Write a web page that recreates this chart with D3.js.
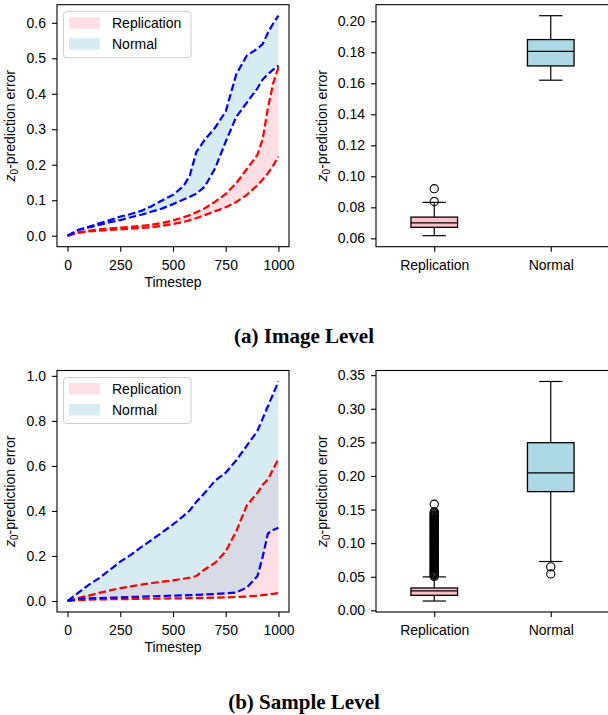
<!DOCTYPE html>
<html>
<head>
<meta charset="utf-8">
<script src="https://cdn.jsdelivr.net/npm/d3@7"></script>
<style>
body { margin: 0; background: #fff; }
svg text { font-family: "Liberation Sans", Arial, sans-serif; font-size: 14px; fill: #000; }
.caption { font-family: "Liberation Serif", "Times New Roman", serif; font-weight: bold; font-size: 21px; }
</style>
</head>
<body>
<svg id="fig" width="608" height="715"></svg>
<script>
var timesteps = [0, 50, 100, 150, 200, 250, 300, 350, 400, 450, 500, 550, 580, 610, 650, 700, 750, 800, 850, 900, 925, 950, 975, 1000];
var xTicks = [0, 250, 500, 750, 1000];

// (a) image level, lower / upper bounds
var imgRepLo  = [0, 0.008, 0.012, 0.014, 0.016, 0.018, 0.020, 0.022, 0.024, 0.028, 0.033, 0.039, 0.044, 0.049, 0.058, 0.069, 0.080, 0.095, 0.115, 0.142, 0.158, 0.176, 0.198, 0.223];
var imgRepHi  = [0, 0.009, 0.014, 0.018, 0.021, 0.023, 0.025, 0.028, 0.031, 0.036, 0.043, 0.052, 0.058, 0.066, 0.077, 0.096, 0.118, 0.148, 0.188, 0.228, 0.272, 0.360, 0.430, 0.475];
var imgNormLo = [0, 0.016, 0.023, 0.030, 0.038, 0.044, 0.052, 0.059, 0.068, 0.077, 0.089, 0.102, 0.110, 0.118, 0.138, 0.190, 0.265, 0.335, 0.375, 0.415, 0.440, 0.455, 0.468, 0.479];
var imgNormHi = [0, 0.016, 0.025, 0.035, 0.044, 0.054, 0.061, 0.070, 0.084, 0.100, 0.115, 0.140, 0.170, 0.235, 0.270, 0.305, 0.350, 0.455, 0.508, 0.527, 0.540, 0.572, 0.598, 0.620];

// (b) sample level
var smpRepLo  = [0, 0.004, 0.006, 0.007, 0.008, 0.008, 0.009, 0.010, 0.010, 0.011, 0.012, 0.012, 0.013, 0.013, 0.014, 0.015, 0.016, 0.018, 0.020, 0.023, 0.026, 0.029, 0.032, 0.035];
var smpRepHi  = [0, 0.013, 0.024, 0.036, 0.047, 0.057, 0.065, 0.073, 0.080, 0.086, 0.092, 0.099, 0.104, 0.111, 0.140, 0.170, 0.220, 0.310, 0.425, 0.480, 0.515, 0.540, 0.585, 0.632];
var smpNormLo = [0, 0.009, 0.012, 0.013, 0.015, 0.016, 0.018, 0.019, 0.021, 0.022, 0.024, 0.025, 0.026, 0.027, 0.029, 0.031, 0.034, 0.038, 0.060, 0.110, 0.195, 0.300, 0.315, 0.325];
var smpNormHi = [0, 0.036, 0.072, 0.102, 0.138, 0.175, 0.205, 0.240, 0.272, 0.306, 0.340, 0.378, 0.403, 0.440, 0.480, 0.535, 0.570, 0.625, 0.690, 0.755, 0.810, 0.865, 0.920, 0.975];

var imgYTicks = [0, 0.1, 0.2, 0.3, 0.4, 0.5, 0.6];
var smpYTicks = [0, 0.2, 0.4, 0.6, 0.8, 1.0];

// box plots (Replication, Normal)
var boxCats = ['Replication', 'Normal'];
var imgWhiskLo = [0.0617, 0.1620];
var imgQ1      = [0.0671, 0.1712];
var imgMed     = [0.0700, 0.1806];
var imgQ3      = [0.0737, 0.1882];
var imgWhiskHi = [0.0832, 0.2036];
var imgFliers  = [[0.0838, 0.0920], []];
var imgBoxTicks = [0.06, 0.08, 0.10, 0.12, 0.14, 0.16, 0.18, 0.20];

var smpWhiskLo = [0.0139, 0.0727];
var smpQ1      = [0.0224, 0.1767];
var smpMed     = [0.0289, 0.2047];
var smpQ3      = [0.0333, 0.2495];
var smpWhiskHi = [0.0498, 0.3406];
var smpFliers  = [[0.0505, 0.0518, 0.0531, 0.0546, 0.0560, 0.0573, 0.0589, 0.0602, 0.0617, 0.0630, 0.0645, 0.0659, 0.0672, 0.0688,
                   0.0701, 0.0716, 0.0729, 0.0744, 0.0758, 0.0771, 0.0787, 0.0800, 0.0815, 0.0828, 0.0843, 0.0857, 0.0870, 0.0886,
                   0.0899, 0.0914, 0.0927, 0.0942, 0.0956, 0.0969, 0.0985, 0.0998, 0.1013, 0.1026, 0.1041, 0.1055, 0.1068, 0.1084,
                   0.1097, 0.1112, 0.1125, 0.1140, 0.1154, 0.1167, 0.1183, 0.1196, 0.1211, 0.1224, 0.1239, 0.1253, 0.1266, 0.1282,
                   0.1295, 0.1310, 0.1323, 0.1338, 0.1352, 0.1365, 0.1381, 0.1394, 0.1409, 0.1422, 0.1437, 0.1451, 0.1466, 0.1580],
                  [0.0647, 0.0542]];
var smpBoxTicks = [0, 0.05, 0.10, 0.15, 0.20, 0.25, 0.30, 0.35];

var captions = ['(a) Image Level', '(b) Sample Level'];

var cfg = {
    pink: '#ffc0cb',
    blue: '#add8e6',
    red: '#ff0000',
    dblue: '#0000ff',
    lineLeft: 57, lineRight: 289,
    boxLeft: 376, boxRight: 609,
    rows: [{top: 4.7, bottom: 246.7}, {top: 370.5, bottom: 612}],
};

var svg = d3.select('#fig');

function padded(vals) {
    var e = d3.extent(vals), p = (e[1] - e[0]) * 0.05;
    return [e[0] - p, e[1] + p];
}

function styleAxis(g) {
    g.select('.domain').remove();
    g.selectAll('line').attr('stroke', '#000').attr('stroke-width', 1.1);
    g.selectAll('text').attr('font-size', null).attr('font-family', null);
    g.attr('font-size', null).attr('font-family', null);
}

function ylabel(g, x, cy) {
    var t = g.append('text')
        .attr('transform', 'translate(' + x + ',' + cy + ') rotate(-90)')
        .attr('text-anchor', 'middle');
    t.append('tspan').attr('font-style', 'italic').text('z');
    t.append('tspan').attr('font-size', '10px').attr('dy', 3).text('0');
    t.append('tspan').attr('dy', -3).text('-prediction error');
}

function frame(g, l, t, r, b) {
    g.append('rect')
        .attr('x', l).attr('y', t)
        .attr('width', r - l).attr('height', b - t)
        .attr('fill', 'none').attr('stroke', '#000').attr('stroke-width', 1.1);
}

function linePanel(row, repLo, repHi, normLo, normHi, yTicks) {
    var c = cfg, top = row.top, bottom = row.bottom;
    var g = svg.append('g');

    var x = d3.scaleLinear().domain(padded(timesteps)).range([c.lineLeft, c.lineRight]);
    var y = d3.scaleLinear()
        .domain(padded([].concat(repLo, repHi, normLo, normHi)))
        .range([bottom, top]);

    var area = function(lo, hi) {
        return d3.area()
            .x(function(d, i) { return x(timesteps[i]); })
            .y0(function(d, i) { return y(lo[i]); })
            .y1(function(d, i) { return y(hi[i]); })(timesteps);
    };
    var line = function(vals) {
        return d3.line()
            .x(function(d, i) { return x(timesteps[i]); })
            .y(function(d) { return y(d); })(vals);
    };

    // fills: replication first, normal over it (both half transparent)
    g.append('path').attr('d', area(repLo, repHi)).attr('fill', c.pink).attr('fill-opacity', 0.5);
    g.append('path').attr('d', area(normLo, normHi)).attr('fill', c.blue).attr('fill-opacity', 0.5);

    [[repLo, c.red], [repHi, c.red], [normLo, c.dblue], [normHi, c.dblue]].forEach(function(s) {
        g.append('path')
            .attr('d', line(s[0]))
            .attr('fill', 'none')
            .attr('stroke', s[1])
            .attr('stroke-width', 2.2)
            .attr('stroke-dasharray', '7.5,3.2');
    });

    g.append('g')
        .attr('transform', 'translate(0,' + bottom + ')')
        .call(d3.axisBottom(x).tickValues(xTicks).tickSize(5).tickPadding(8).tickFormat(d3.format('d')))
        .call(styleAxis);
    g.append('g')
        .attr('transform', 'translate(' + c.lineLeft + ',0)')
        .call(d3.axisLeft(y).tickValues(yTicks).tickSize(5).tickPadding(6).tickFormat(d3.format('.1f')))
        .call(styleAxis);

    frame(g, c.lineLeft, top, c.lineRight, bottom);

    g.append('text')
        .attr('x', (c.lineLeft + c.lineRight) / 2)
        .attr('y', bottom + 40)
        .attr('text-anchor', 'middle')
        .text('Timestep');
    ylabel(g, 15, (top + bottom) / 2);

    // legend
    var lx = c.lineLeft + 6.5, ly = top + 7;
    var lg = g.append('g').attr('transform', 'translate(' + lx + ',' + ly + ')');
    lg.append('rect')
        .attr('width', 127.5).attr('height', 46).attr('rx', 3)
        .attr('fill', '#fff').attr('fill-opacity', 0.8)
        .attr('stroke', '#cccccc').attr('stroke-width', 1);
    [['Replication', c.pink], ['Normal', c.blue]].forEach(function(d, i) {
        lg.append('rect')
            .attr('x', 5.5).attr('y', 5.5 + i * 21)
            .attr('width', 31).attr('height', 11.5)
            .attr('fill', d[1]).attr('fill-opacity', 0.5);
        lg.append('text')
            .attr('x', 48.5).attr('y', 16.5 + i * 21)
            .text(d[0]);
    });
}

function boxPanel(row, wLo, q1, med, q3, wHi, fliers, yTicks) {
    var c = cfg, top = row.top, bottom = row.bottom;
    var g = svg.append('g');

    var x = d3.scaleLinear().domain([0.5, 2.5]).range([c.boxLeft, c.boxRight]);
    var allVals = [].concat(wLo, wHi, fliers[0], fliers[1]);
    var y = d3.scaleLinear().domain(padded(allVals)).range([bottom, top]);

    var bw = x(0.9) - x(0.5), cw = bw / 2;
    var fills = [c.pink, c.blue];

    boxCats.forEach(function(cat, i) {
        var cx = x(i + 1);
        // whiskers
        [[wLo[i], q1[i]], [q3[i], wHi[i]]].forEach(function(w) {
            g.append('line')
                .attr('x1', cx).attr('x2', cx)
                .attr('y1', y(w[0])).attr('y2', y(w[1]))
                .attr('stroke', '#000').attr('stroke-width', 1.2);
        });
        [wLo[i], wHi[i]].forEach(function(v) {
            g.append('line')
                .attr('x1', cx - cw / 2).attr('x2', cx + cw / 2)
                .attr('y1', y(v)).attr('y2', y(v))
                .attr('stroke', '#000').attr('stroke-width', 1.2);
        });
        g.append('rect')
            .attr('x', cx - bw / 2).attr('y', y(q3[i]))
            .attr('width', bw).attr('height', y(q1[i]) - y(q3[i]))
            .attr('fill', fills[i])
            .attr('stroke', '#000').attr('stroke-width', 1.3);
        g.append('line')
            .attr('x1', cx - bw / 2).attr('x2', cx + bw / 2)
            .attr('y1', y(med[i])).attr('y2', y(med[i]))
            .attr('stroke', '#000').attr('stroke-width', 1.3);
        g.selectAll(null).data(fliers[i]).enter().append('circle')
            .attr('cx', cx).attr('cy', function(d) { return y(d); })
            .attr('r', 4.1)
            .attr('fill', 'none').attr('stroke', '#000').attr('stroke-width', 1.1);
    });

    g.append('g')
        .attr('transform', 'translate(0,' + bottom + ')')
        .call(d3.axisBottom(x).tickValues([1, 2]).tickSize(5).tickPadding(8)
            .tickFormat(function(d) { return boxCats[d - 1]; }))
        .call(styleAxis);
    g.append('g')
        .attr('transform', 'translate(' + c.boxLeft + ',0)')
        .call(d3.axisLeft(y).tickValues(yTicks).tickSize(5).tickPadding(6).tickFormat(d3.format('.2f')))
        .call(styleAxis);

    frame(g, c.boxLeft, top, c.boxRight, bottom);
    ylabel(g, 327, (top + bottom) / 2);
}

linePanel(cfg.rows[0], imgRepLo, imgRepHi, imgNormLo, imgNormHi, imgYTicks);
boxPanel(cfg.rows[0], imgWhiskLo, imgQ1, imgMed, imgQ3, imgWhiskHi, imgFliers, imgBoxTicks);
linePanel(cfg.rows[1], smpRepLo, smpRepHi, smpNormLo, smpNormHi, smpYTicks);
boxPanel(cfg.rows[1], smpWhiskLo, smpQ1, smpMed, smpQ3, smpWhiskHi, smpFliers, smpBoxTicks);

svg.selectAll('.caption').data(captions).enter().append('text')
    .attr('class', 'caption')
    .attr('x', 304)
    .attr('y', function(d, i) { return [343.3, 708.5][i]; })
    .attr('text-anchor', 'middle')
    .text(function(d) { return d; });
</script>
</body>
</html>
